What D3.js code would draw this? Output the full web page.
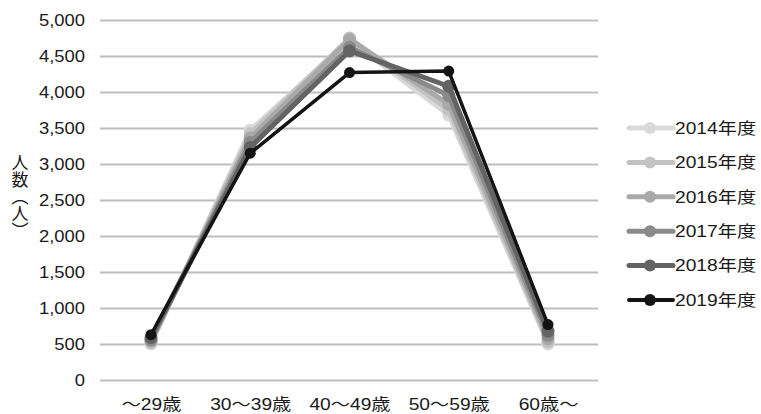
<!DOCTYPE html>
<html><head><meta charset="utf-8">
<script src="https://cdn.jsdelivr.net/npm/d3@7"></script>
<style>
body{margin:0;background:#fff;}
text{font-family:"Liberation Sans","Noto Sans CJK JP",sans-serif;fill:#1a1a1a;}
</style></head>
<body><svg id="c" width="761" height="414"></svg>
<script>
const categories = ["～29歳","30～39歳","40～49歳","50～59歳","60歳～"];
const seriesNames = ["2014年度","2015年度","2016年度","2017年度","2018年度","2019年度"];
const s2014 = [500, 3470, 4720, 3680, 500];
const s2015 = [520, 3420, 4750, 3750, 530];
const s2016 = [540, 3360, 4730, 3830, 570];
const s2017 = [560, 3300, 4620, 3950, 620];
const s2018 = [590, 3230, 4570, 4080, 680];
const s2019 = [630, 3150, 4270, 4290, 770];
const yTicks = [0,500,1000,1500,2000,2500,3000,3500,4000,4500,5000];
const colors = ["#d9d9d9","#c3c3c3","#a9a9a9","#8a8a8a","#636363","#141414"];

const data = [s2014,s2015,s2016,s2017,s2018,s2019];
const svg = d3.select("#c");
const x = d3.scalePoint().domain(categories).range([151,548]);
const y = d3.scaleLinear().domain([0,5000]).range([380,20]);

function stretch(sel, k){
  sel.each(function(){
    const L = this.getComputedTextLength();
    d3.select(this).attr("textLength", L*k).attr("lengthAdjust","spacingAndGlyphs");
  });
}

// gridlines
const yAxis = d3.axisLeft(y).tickValues(yTicks).tickSize(-498).tickPadding(15)
  .tickFormat(d3.format(","));
const ga = svg.append("g").attr("transform","translate(100,0)").call(yAxis);
ga.select(".domain").remove();
ga.selectAll(".tick line").attr("stroke","#bdbdbd").attr("stroke-width",2);
ga.selectAll(".tick text").attr("font-size",16).attr("fill","#1a1a1a").call(stretch,1.15);

// x labels
const xa = svg.append("g").attr("transform","translate(0,380)")
  .call(d3.axisBottom(x).tickSize(0).tickPadding(19));
xa.select(".domain").remove();
xa.selectAll(".tick text").attr("font-size",16).attr("fill","#1a1a1a").call(stretch,1.2);

// y title
svg.append("text").attr("x",18).attr("y",197)
  .attr("font-size",17).attr("fill","#333")
  .style("writing-mode","vertical-rl").attr("text-anchor","middle")
  .attr("font-family","Noto Sans CJK JP")
  .text("人数（人）");

const line = d3.line().x((d,i)=>x(categories[i])).y(d=>y(d));
data.forEach((s,k)=>{
  const w = k===5 ? 3.5 : 5;
  const r = k===5 ? 5.5 : 6.5;
  svg.append("path").datum(s).attr("d",line).attr("fill","none")
    .attr("stroke",colors[k]).attr("stroke-width",w).attr("stroke-linejoin","round");
  svg.selectAll(null).data(s).enter().append("circle")
    .attr("cx",(d,i)=>x(categories[i])).attr("cy",d=>y(d)).attr("r",r)
    .attr("fill",colors[k]);
});

// legend
const ly = d3.scalePoint().domain(seriesNames).range([128,300]);
const lg = svg.append("g");
seriesNames.forEach((n,k)=>{
  const yy = ly(n);
  lg.append("line").attr("x1",629).attr("x2",673).attr("y1",yy).attr("y2",yy)
    .attr("stroke",colors[k]).attr("stroke-width",k===5?4:5).attr("stroke-linecap","round");
  lg.append("circle").attr("cx",650).attr("cy",yy).attr("r",6).attr("fill",colors[k]);
  lg.append("text").attr("x",675).attr("y",yy).attr("dy","0.36em")
    .attr("font-size",16).text(n).call(stretch,1.2);
});
</script></body></html>
